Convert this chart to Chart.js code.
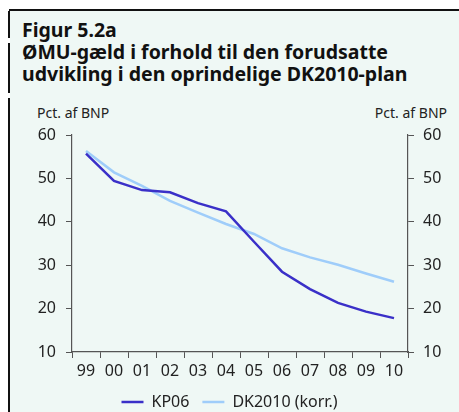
<!DOCTYPE html>
<html>
<head>
<meta charset="utf-8">
<script src="https://cdn.jsdelivr.net/npm/chart.js@4.4.0/dist/chart.umd.min.js"></script>
<style>
  html, body { margin: 0; padding: 0; background: #fff; }
  #wrap { position: relative; width: 459px; height: 412px; overflow: hidden; font-family: "Noto Sans", sans-serif; }
  #panel { position: absolute; left: 10px; top: 11px; right: 0; bottom: 0; background: #eff8f5; }
  .frame { position: absolute; background: #111; }
  .t { position: absolute; left: 22px; font-weight: bold; font-size: 19.5px; color: #111; white-space: nowrap; }
  .unit { position: absolute; top: 103px; font-size: 14px; color: #222; }
  canvas { position: absolute; left: 0; top: 0; }
</style>
</head>
<body>
<div id="wrap">
  <div id="panel"></div>
  <div class="frame" style="left:9px; top:9px; width:450px; height:2px;"></div>
  <div class="frame" style="left:8px; top:11px; width:2px; height:27px;"></div>
  <div class="frame" style="left:8px; top:43px; width:2px; height:50px;"></div>
  <div class="frame" style="left:8px; top:98px; width:2px; height:314px;"></div>
  <div class="t" style="top:16px;">Figur 5.2a</div>
  <div class="t" style="top:38px;">ØMU-gæld i forhold til den forudsatte</div>
  <div class="t" style="top:60px;">udvikling i den oprindelige DK2010-plan</div>
  <div class="unit" style="left:37px;">Pct. af BNP</div>
  <div class="unit" style="right:12px;">Pct. af BNP</div>
  <canvas id="chart" width="459" height="412"></canvas>
</div>
<script>
const years = ['99', '00', '01', '02', '03', '04', '05', '06', '07', '08', '09', '10'];
const kp06 = [55.7, 49.4, 47.3, 46.8, 44.3, 42.4, 35.4, 28.5, 24.5, 21.3, 19.3, 17.8];
const dk2010 = [56.3, 51.4, 48.3, 44.8, 42.1, 39.5, 37.2, 33.9, 31.8, 30.1, 28.1, 26.2];
const yTicks = [10, 20, 30, 40, 50, 60];

const axisColor = '#555';
const tickFont = { family: 'Noto Sans', size: 16 };

new Chart(document.getElementById('chart').getContext('2d'), {
    type: 'line',
    data: {
        labels: years,
        datasets: [
            {
                label: 'KP06',
                data: kp06,
                borderColor: '#3a30c8',
                backgroundColor: '#3a30c8',
                borderWidth: 2.5,
                pointRadius: 0,
                tension: 0,
                yAxisID: 'y'
            },
            {
                label: 'DK2010 (korr.)',
                data: dk2010,
                borderColor: '#9fcdfa',
                backgroundColor: '#9fcdfa',
                borderWidth: 2.5,
                pointRadius: 0,
                tension: 0,
                yAxisID: 'y'
            }
        ]
    },
    options: {
        responsive: false,
        animation: false,
        layout: { padding: { top: 135, bottom: -8, left: 0, right: 0 } },
        plugins: {
            legend: {
                position: 'bottom',
                labels: {
                    usePointStyle: true,
                    pointStyle: 'line',
                    pointStyleWidth: 22,
                    color: '#222',
                    font: tickFont,
                    padding: 13
                }
            },
            tooltip: { enabled: false }
        },
        scales: {
            x: {
                offset: true,
                afterFit: s => { s.height = 29; },
                grid: { drawOnChartArea: false, drawTicks: true, tickLength: 6, offset: true, color: axisColor },
                border: { color: axisColor, width: 1.2 },
                ticks: { color: '#222', font: tickFont, padding: 4, maxRotation: 0 }
            },
            y: {
                position: 'left',
                min: 10,
                max: 60,
                afterFit: s => { s.width = 72; },
                afterBuildTicks: s => { s.ticks = yTicks.map(v => ({ value: v })); },
                grid: { drawOnChartArea: false, drawTicks: true, tickLength: 6, color: axisColor },
                border: { color: axisColor, width: 1.2 },
                ticks: { color: '#222', font: tickFont, padding: 10 }
            },
            y1: {
                position: 'right',
                min: 10,
                max: 60,
                afterFit: s => { s.width = 51; },
                afterBuildTicks: s => { s.ticks = yTicks.map(v => ({ value: v })); },
                grid: { drawOnChartArea: false, drawTicks: true, tickLength: 6, color: axisColor },
                border: { color: axisColor, width: 1.2 },
                ticks: { color: '#222', font: tickFont, padding: 9 }
            }
        }
    }
});
</script>
</body>
</html>
